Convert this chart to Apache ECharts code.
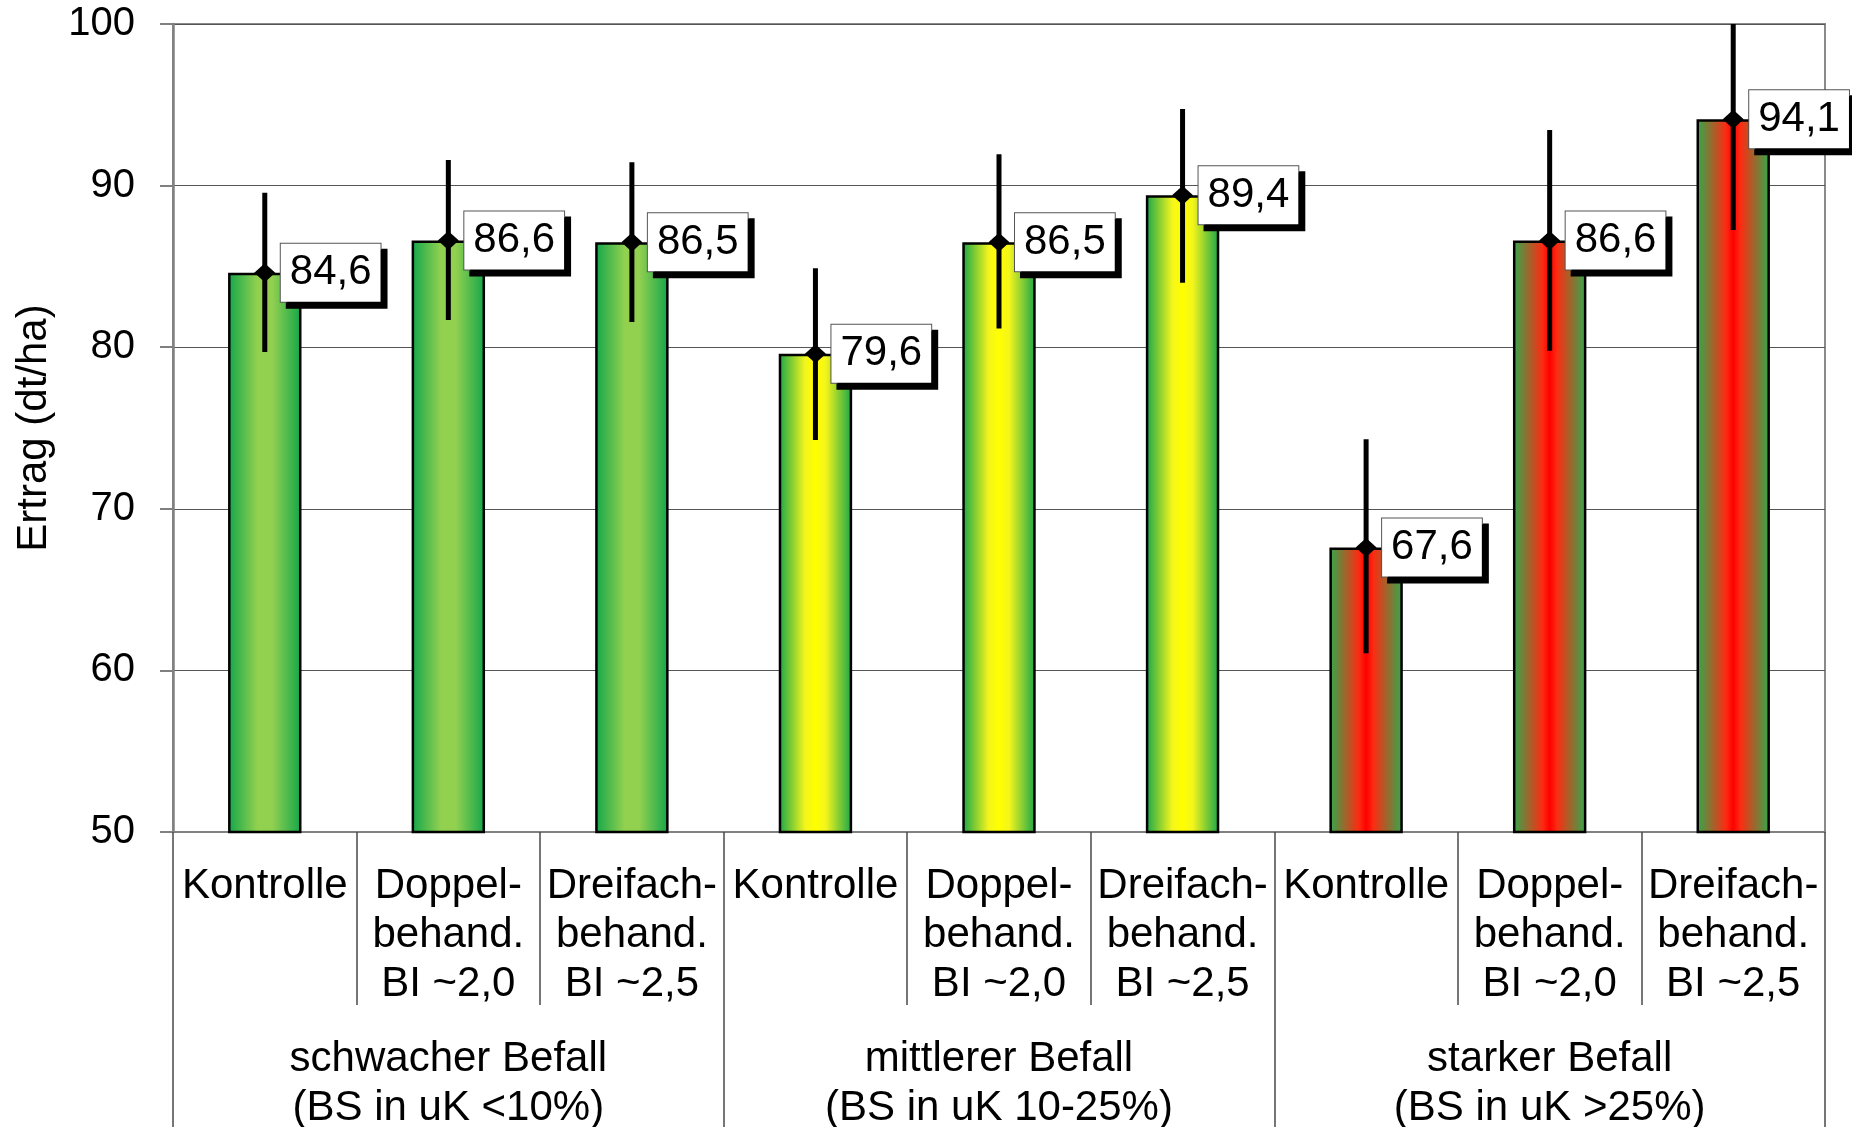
<!DOCTYPE html>
<html>
<head>
<meta charset="utf-8">
<script src="https://cdn.jsdelivr.net/npm/echarts@6/dist/echarts.min.js"></script>
<style>
html,body{margin:0;padding:0;background:#fff;}
#chart{width:1852px;height:1127px;}
</style>
</head>
<body>
<div id="chart"></div>
<script>
// ---- data ----
var categories = [
  'Kontrolle', 'Doppel-\nbehand.\nBI ~2,0', 'Dreifach-\nbehand.\nBI ~2,5',
  'Kontrolle', 'Doppel-\nbehand.\nBI ~2,0', 'Dreifach-\nbehand.\nBI ~2,5',
  'Kontrolle', 'Doppel-\nbehand.\nBI ~2,0', 'Dreifach-\nbehand.\nBI ~2,5'
];
var groups = [
  'schwacher Befall\n(BS in uK <10%)',
  'mittlerer Befall\n(BS in uK 10-25%)',
  'starker Befall\n(BS in uK >25%)'
];
var yields = [84.6, 86.6, 86.5, 79.6, 86.5, 89.4, 67.6, 86.6, 94.1];
var errUpper = [89.56, 91.58, 91.44, 84.88, 91.94, 94.74, 74.3, 93.44, 100.95];
var errLower = [79.7, 81.68, 81.56, 74.26, 81.15, 83.99, 61.06, 79.78, 87.25];
var yTicks = [50, 60, 70, 80, 90, 100];
var yAxisTitle = 'Ertrag (dt/ha)';

// ---- styles ----
var FONT = 'Liberation Sans, Arial, sans-serif';
var G = echarts.graphic.LinearGradient;
function gradFor(g) {
  if (g === 0) return new G(0, 0, 1, 0, [
    {offset: 0, color: '#12a64a'}, {offset: 0.4, color: '#92d050'},
    {offset: 0.6, color: '#92d050'}, {offset: 1, color: '#12a64a'}]);
  if (g === 1) return new G(0, 0, 1, 0, [
    {offset: 0, color: '#16a64a'}, {offset: 0.36, color: '#f4f51c'},
    {offset: 0.5, color: '#ffff00'}, {offset: 0.64, color: '#f4f51c'},
    {offset: 1, color: '#16a64a'}]);
  return new G(0, 0, 1, 0, [
    {offset: 0, color: '#2eab4c'}, {offset: 0.4, color: '#fc2c12'},
    {offset: 0.5, color: '#ff0000'}, {offset: 0.6, color: '#fc2c12'},
    {offset: 1, color: '#2eab4c'}]);
}

var barData = yields.map(function (v, i) {
  return {value: v, itemStyle: {color: gradFor(Math.floor(i / 3))}};
});
var errData = yields.map(function (v, i) { return [i, errLower[i], errUpper[i]]; });
var pointData = yields.map(function (v, i) { return [i, v]; });

var chart = echarts.init(document.getElementById('chart'), null, {renderer: 'canvas'});
chart.setOption({
  animation: false,
  backgroundColor: '#ffffff',
  textStyle: {fontFamily: FONT},
  grid: {left: 173, right: 27, top: 24, bottom: 295, show: true,
         outerBoundsMode: 'none', containLabel: false,
         borderColor: '#8a8a8a', borderWidth: 2, backgroundColor: 'transparent'},
  xAxis: [{
    type: 'category',
    data: categories,
    position: 'bottom',
    axisLine: {show: true, lineStyle: {color: '#808080', width: 2}},
    axisTick: {show: true, interval: 0, length: 173, lineStyle: {color: '#4a4a4a', width: 1.5}},
    axisLabel: {interval: 0, margin: 29.5, fontSize: 42, lineHeight: 49, color: '#000', fontFamily: FONT},
    splitLine: {show: false}
  }, {
    type: 'category',
    data: groups,
    position: 'bottom',
    axisLine: {show: false},
    axisTick: {show: true, interval: 0, length: 300, lineStyle: {color: '#4a4a4a', width: 1.5}},
    axisLabel: {interval: 0, margin: 203, fontSize: 42, lineHeight: 49, color: '#000', fontFamily: FONT},
    splitLine: {show: false}
  }],
  yAxis: {
    type: 'value',
    min: yTicks[0], max: yTicks[yTicks.length - 1], interval: 10,
    name: yAxisTitle,
    nameLocation: 'middle',
    nameGap: 118,
    nameTextStyle: {fontSize: 42, color: '#000', fontFamily: FONT},
    axisLine: {show: true, lineStyle: {color: '#808080', width: 2.5}},
    axisTick: {show: true, length: 13, lineStyle: {color: '#808080', width: 2}},
    axisLabel: {fontSize: 40, color: '#000', margin: 38, fontFamily: FONT},
    splitLine: {show: true, lineStyle: {color: '#555', width: 1.2}}
  },
  series: [{
    type: 'bar',
    xAxisIndex: 0,
    data: barData,
    barWidth: '40%',
    itemStyle: {borderColor: '#000', borderWidth: 2.5, opacity: 1},
    z: 2
  }, {
    type: 'custom',
    xAxisIndex: 0,
    data: errData,
    encode: {x: 0, y: [1, 2]},
    z: 3,
    renderItem: function (params, api) {
      var lo = api.coord([api.value(0), api.value(1)]);
      var hi = api.coord([api.value(0), api.value(2)]);
      var cs = params.coordSys;
      var yTop = Math.max(hi[1], cs.y);
      var yBot = Math.min(lo[1], cs.y + cs.height);
      return {
        type: 'line',
        shape: {x1: lo[0], y1: yBot, x2: hi[0], y2: yTop},
        style: {stroke: '#000', lineWidth: 5}
      };
    }
  }, {
    type: 'scatter',
    xAxisIndex: 0,
    data: pointData,
    symbol: 'diamond',
    symbolSize: [21, 19],
    itemStyle: {color: '#000', opacity: 1},
    z: 5,
    label: {
      show: true,
      position: 'right',
      distance: 5.5,
      formatter: function (p) { return p.value[1].toFixed(1).replace('.', ','); },
      fontSize: 42,
      lineHeight: 50,
      color: '#000',
      opacity: 1,
      fontFamily: FONT,
      backgroundColor: '#fff',
      borderColor: '#555',
      borderWidth: 1,
      padding: [5, 9, 3, 9],
      shadowColor: '#000',
      shadowBlur: 0,
      shadowOffsetX: 6,
      shadowOffsetY: 6
    }
  }]
});
</script>
</body>
</html>
